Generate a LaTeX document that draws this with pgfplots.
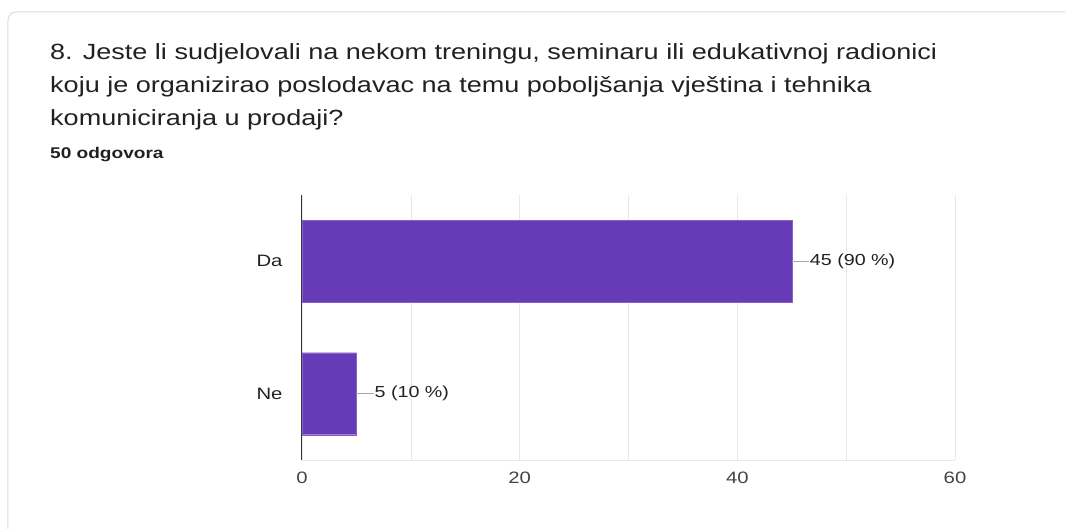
\documentclass[border=0pt]{standalone}
\usepackage{pgfplots}
\pgfplotsset{compat=1.18}
\usetikzlibrary{calc}
\usepackage{fontspec}
\setmainfont{Liberation Sans}[FakeStretch=1.23]
\definecolor{barpurple}{HTML}{673AB7}
\definecolor{gridgray}{HTML}{E8E8E8}
\definecolor{titlecol}{HTML}{202124}
\definecolor{tickcol}{HTML}{444444}
\definecolor{cardborder}{HTML}{DADCE0}
\begin{document}
\begin{tikzpicture}[x=1pt,y=1pt]
\begin{axis}[
  at={(0pt,0pt)}, anchor=south west,
  width=653pt, height=265pt, scale only axis,
  xmin=0, xmax=60, ymin=-0.5, ymax=1.5,
  xbar, bar width=82pt,
  xtick={0,20,40,60}, minor xtick={10,30,50},
  ytick={0,1}, yticklabels={Ne,Da},
  major tick length=0pt, minor tick length=0pt,
  grid=both, major grid style={gridgray}, minor grid style={gridgray},
  ymajorgrids=false, yminorgrids=false,
  axis x line*=bottom, axis y line*=left,
  x axis line style={draw=gridgray, -},
  y axis line style={draw=black!80, line width=1pt, -},
  ticklabel style={font=\fontsize{16.5}{19}\selectfont},
  xticklabel style={text=tickcol, yshift=-8pt},
  yticklabel style={text=titlecol, xshift=-16pt},
  /pgf/number format/assume math mode=true,
  nodes near coords,
  point meta=explicit symbolic,
  every node near coord/.append style={anchor=west, xshift=17pt, inner sep=1pt, font=\fontsize{16}{19}\selectfont, text=titlecol},
  clip=false,
]
\addplot[fill=barpurple, draw=barpurple!80!white,
  error bars/.cd, x dir=plus, x fixed=1.6, error mark=none,
  error bar style={gray!70, line width=0.8pt}]
  coordinates {(45,1) [45 (90~\%)] (5,0) [5 (10~\%)]};
\coordinate (O) at (rel axis cs:0,0);
\end{axis}
\coordinate (P) at ($(O)+(-302pt,-69pt)$);
\pgfresetboundingbox
\path[use as bounding box] (P) rectangle ++(1065pt,529pt);
\begin{scope}[shift={(P)}]
\begin{scope}
\clip (0,0) rectangle (1065,529);
\draw[cardborder, line width=1pt, rounded corners=8pt] (8,-20) rectangle (1090,517);
\end{scope}
\node[anchor=base west, inner sep=0pt, font=\fontsize{22}{26}\selectfont, text=titlecol] at (50,469) {8. Jeste li sudjelovali na nekom treningu, seminaru ili edukativnoj radionici};
\node[anchor=base west, inner sep=0pt, font=\fontsize{22}{26}\selectfont, text=titlecol] at (50,436) {koju je organizirao poslodavac na temu poboljšanja vještina i tehnika};
\node[anchor=base west, inner sep=0pt, font=\fontsize{22}{26}\selectfont, text=titlecol] at (50,403) {komuniciranja u prodaji?};
\node[anchor=base west, inner sep=0pt, font=\fontsize{15.5}{18}\selectfont\bfseries, text=titlecol] at (50,370) {50 odgovora};
\end{scope}
\end{tikzpicture}
\end{document}
